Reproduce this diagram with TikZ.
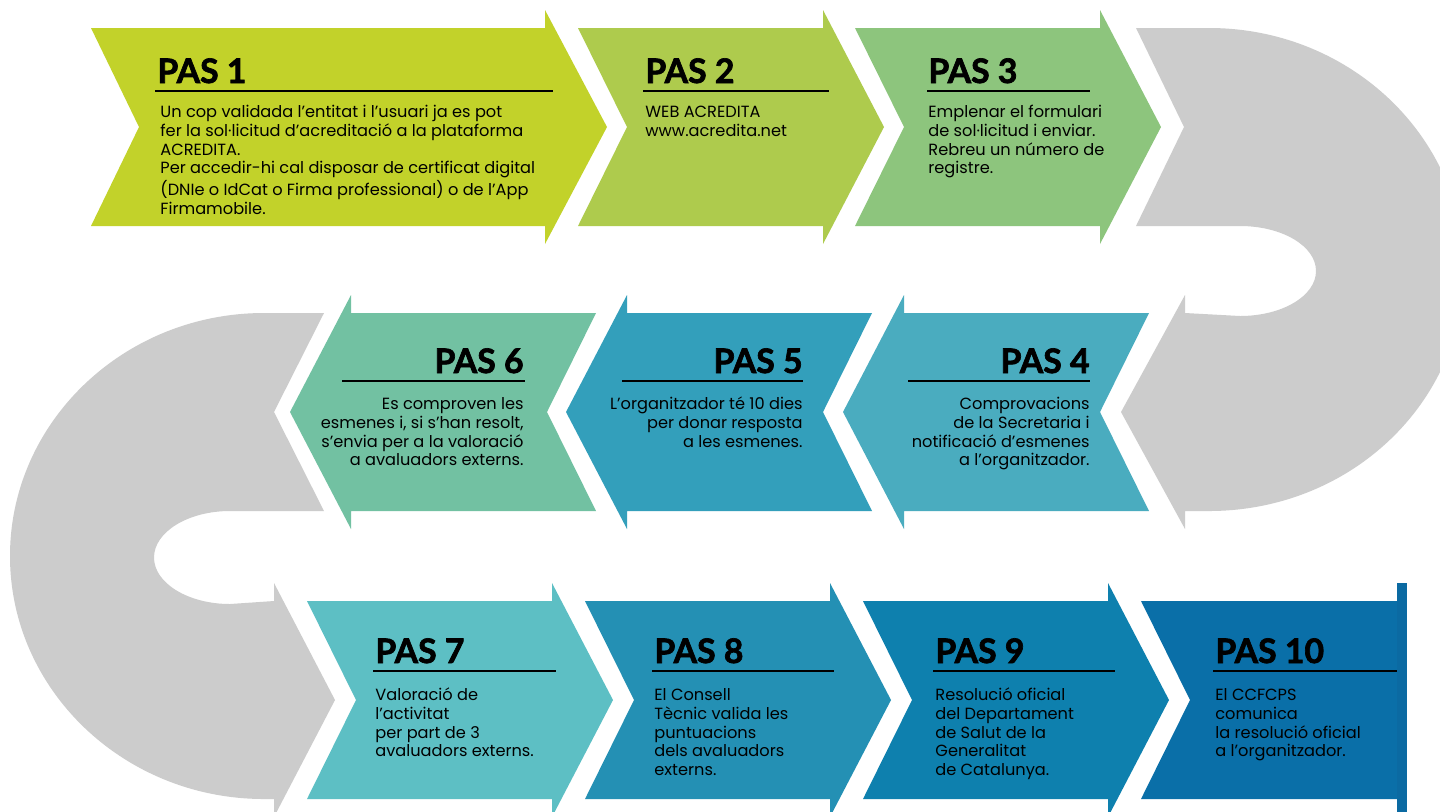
\documentclass[tikz,border=0pt]{standalone}
\usepackage{fontspec}
\setmainfont{Poppins}
\newfontfamily\titlefont{Lato}[BoldFeatures={FakeBold=2}]
\definecolor{cA}{HTML}{C2D22A}
\definecolor{cB}{HTML}{AECB4D}
\definecolor{cC}{HTML}{8DC57D}
\definecolor{cD}{HTML}{4AACBF}
\definecolor{cE}{HTML}{339FBB}
\definecolor{cF}{HTML}{72C1A2}
\definecolor{cG}{HTML}{5DBFC4}
\definecolor{cH}{HTML}{2490B4}
\definecolor{cI}{HTML}{0E80AE}
\definecolor{cJ}{HTML}{0A6FA8}
\definecolor{cK}{HTML}{0B6AA2}
\definecolor{grayband}{HTML}{CCCCCC}
\newcommand\chevR[3]{\fill[#3] (#1,{#2-99}) -- ({#1+245},{#2-99}) -- ({#1+245},{#2-117}) -- ({#1+306},#2) -- ({#1+245},{#2+117}) -- ({#1+245},{#2+99}) -- (#1,{#2+99}) -- ({#1+49},#2) -- cycle;}
\newcommand\chevL[3]{\fill[#3] (#1,#2) -- ({#1+61},{#2-117}) -- ({#1+61},{#2-99}) -- ({#1+306},{#2-99}) -- ({#1+257},#2) -- ({#1+306},{#2+99}) -- ({#1+61},{#2+99}) -- ({#1+61},{#2+117}) -- cycle;}
\newcommand\fstrut{\rule{0pt}{7pt}}
\begin{document}
\begin{tikzpicture}[x=0.5pt,y=-0.5pt,
  ttl/.style={font=\titlefont\bfseries\fontsize{16.9}{18}\selectfont, inner sep=0pt, text=black},
  bodyl/.style={font=\fontsize{8.1}{9.4}\selectfont, inner sep=0pt, text=black, align=left, anchor=north west},
  bodyr/.style={font=\fontsize{8.1}{9.4}\selectfont, inner sep=0pt, text=black, align=right, anchor=north east},
  hrule/.style={line width=0.7pt, draw=black}]
\useasboundingbox (0,0) rectangle (1440,811);
\clip (0,0) rectangle (1440,811);
\fill[white] (0,0) rectangle (1440,811);

% gray bands
\fill[grayband] (1136,28) -- (1209,28) .. controls (1350,28) and (1464,137) .. (1464,269.5)
  .. controls (1464,403) and (1350,511) .. (1209,511) -- (1185,511) -- (1185,529) -- (1121,412)
  -- (1185,295) -- (1185,313) -- (1240,316) .. controls (1282,316) and (1316,296) .. (1316,271)
  .. controls (1316,246) and (1282,226) .. (1240,226) -- (1136,226) -- (1184,127) -- cycle;
\fill[grayband] (324,313) -- (274,412) -- (324,511) -- (230,511) .. controls (188,511) and (154,532) .. (154,557.5)
  .. controls (154,583) and (188,604) .. (230,604) -- (274,601) -- (274,583) -- (335,700) -- (274,817)
  -- (274,799) -- (264,799) .. controls (124,799) and (10,690) .. (10,556)
  .. controls (10,422) and (124,313) .. (264,313) -- cycle;

% row 1
\fill[cA] (91,28) -- (545,28) -- (545,10) -- (607,127) -- (545,244) -- (545,226) -- (91,226) -- (139,127) -- cycle;
\chevR{578}{127}{cB}
\chevR{855}{127}{cC}
% row 2
\chevL{843}{412}{cD}
\chevL{566}{412}{cE}
\chevL{290}{412}{cF}
% row 3
\chevR{307}{700}{cG}
\chevR{585}{700}{cH}
\chevR{863}{700}{cI}
\fill[cJ] (1141,601) -- (1397,601) -- (1397,799) -- (1141,799) -- (1190,700) -- cycle;
\fill[cK] (1397,583) rectangle (1407,817);

% PAS 1
\node[ttl, anchor=base west] (t1) at (157,83) {PAS 1};
\draw[hrule] (155,91) -- (553,91);
\node[bodyl] (b1) at (160,103) {\fstrut Un cop validada l’entitat i l’usuari ja es pot\\fer la sol·licitud d’acreditació a la plataforma\\ACREDITA.\\Per accedir-hi cal disposar de certificat digital\\(DNIe o IdCat o Firma professional) o de l’App\\Firmamobile.};
% PAS 2
\node[ttl, anchor=base west] (t2) at (645,83) {PAS 2};
\draw[hrule] (643,91) -- (829,91);
\node[bodyl] (b2) at (645,103) {\fstrut WEB ACREDITA\\www.acredita.net};
% PAS 3
\node[ttl, anchor=base west] (t3) at (928,83) {PAS 3};
\draw[hrule] (927,91) -- (1090,91);
\node[bodyl] (b3) at (928,103) {\fstrut Emplenar el formulari\\de sol·licitud i enviar.\\Rebreu un número de\\registre.};

% PAS 6
\node[ttl, anchor=base east] (t6) at (524,373) {PAS 6};
\draw[hrule] (342,381) -- (525,381);
\node[bodyr] (b6) at (524,395) {\fstrut Es comproven les\\esmenes i, si s’han resolt,\\s’envia per a la valoració\\a avaluadors externs.};
% PAS 5
\node[ttl, anchor=base east] (t5) at (803,373) {PAS 5};
\draw[hrule] (622,381) -- (803,381);
\node[bodyr] (b5) at (803,395) {\fstrut L’organitzador té 10 dies\\per donar resposta\\a les esmenes.};
% PAS 4
\node[ttl, anchor=base east] (t4) at (1090,373) {PAS 4};
\draw[hrule] (908,381) -- (1090,381);
\node[bodyr] (b4) at (1090,395) {\fstrut Comprovacions\\de la Secretaria i\\notificació d’esmenes\\a l’organitzador.};

% PAS 7
\node[ttl, anchor=base west] (t7) at (375,663) {PAS 7};
\draw[hrule] (373,671) -- (556,671);
\node[bodyl] (b7) at (375,686) {\fstrut Valoració de\\l’activitat\\per part de 3\\avaluadors externs.};
% PAS 8
\node[ttl, anchor=base west] (t8) at (654,663) {PAS 8};
\draw[hrule] (652,671) -- (834,671);
\node[bodyl] (b8) at (654,686) {\fstrut El Consell\\Tècnic valida les\\puntuacions\\dels avaluadors\\externs.};
% PAS 9
\node[ttl, anchor=base west] (t9) at (935,663) {PAS 9};
\draw[hrule] (933,671) -- (1115,671);
\node[bodyl] (b9) at (935,686) {\fstrut Resolució oficial\\del Departament\\de Salut de la\\Generalitat\\de Catalunya.};
% PAS 10
\node[ttl, anchor=base west] (t10) at (1215,663) {PAS 10};
\draw[hrule] (1213,671) -- (1397,671);
\node[bodyl] (b10) at (1215,686) {\fstrut El CCFCPS\\comunica\\la resolució oficial\\a l’organitzador.};
\end{tikzpicture}
\end{document}
